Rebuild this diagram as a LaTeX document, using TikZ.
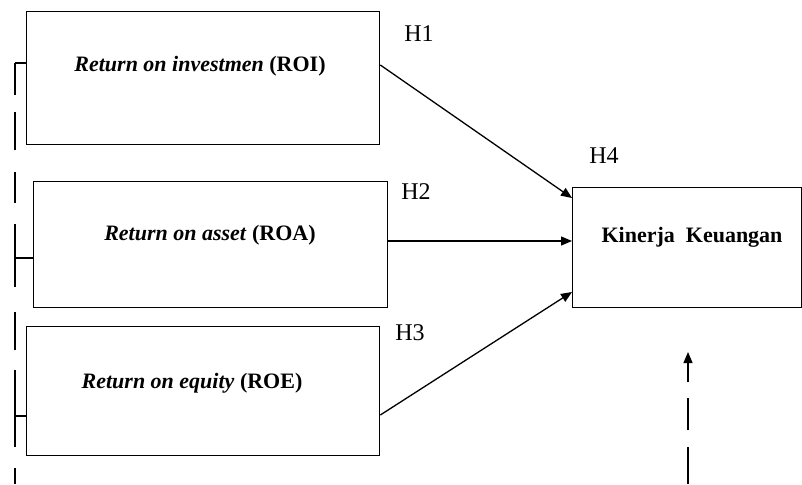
\documentclass[tikz,border=0pt]{standalone}
\usepackage{fontspec}
\setmainfont{Liberation Serif}
\usetikzlibrary{arrows.meta,calc}
\begin{document}
\begin{tikzpicture}[x=1pt,y=-1pt,line width=1.3pt,
  box/.style={draw,rectangle,inner sep=0pt,anchor=north west},
  boxtext/.style={anchor=base,inner sep=0pt,font=\fontsize{22}{25}\selectfont\bfseries},
  hlabel/.style={anchor=base,inner sep=0pt,font=\fontsize{24}{27}\selectfont},
  arr/.style={-{Triangle[length=11pt,width=9pt]}}]
\useasboundingbox (0,0) rectangle (802,484);
\node[box,minimum width=353pt,minimum height=133pt] (b1) at (26,11) {};
\node[box,minimum width=354pt,minimum height=126pt] (b2) at (33,181) {};
\node[box,minimum width=353pt,minimum height=129pt] (b3) at (26,326) {};
\node[box,minimum width=229pt,minimum height=120pt] (bk) at (572,187) {};
\node[boxtext] (t1) at (200,72) {\textit{Return on investmen} (ROI)};
\node[boxtext] (t2) at (210,240) {\textit{Return on asset} (ROA)};
\node[boxtext] (t3) at (192,388) {\textit{Return on equity} (ROE)};
\node[boxtext] (tk) at (692,242) {Kinerja\ \ Keuangan};
\node[hlabel] (h1) at (419,42) {H1};
\node[hlabel] (h2) at (416,199) {H2};
\node[hlabel] (h3) at (410,340) {H3};
\node[hlabel] (h4) at (604,163) {H4};
\draw[arr] ($(b1.north east)+(0,54)$) -- ($(bk.north west)+(0,11)$);
\draw[arr] ($(b2.north east)+(0,60)$) -- ($(bk.north west)+(0,54)$);
\draw[arr] ($(b3.north east)+(0,89)$) -- ($(bk.north west)+(0,105)$);
\coordinate (ltop) at (15,63);
\coordinate (lbot) at (15,484);
\draw[dash pattern=on 32pt off 17pt on 38pt off 22pt on 31pt off 21pt on 63pt off 25pt on 38pt off 20pt on 77pt off 21pt on 30pt off 10pt] (ltop) -- (lbot);
\draw (ltop) -- ($(b1.north west)+(0,52)$);
\draw (15,258) coordinate (l2) -- ($(b2.north west)+(0,77)$);
\draw (15,416) coordinate (l3) -- ($(b3.north west)+(0,90)$);
\coordinate (kbot) at (688,484);
\coordinate (ktip) at (688,352);
\draw[arr,dash pattern=on 37pt off 17pt on 32pt off 16pt on 60pt off 10pt] (kbot) -- (ktip);
\end{tikzpicture}
\end{document}
